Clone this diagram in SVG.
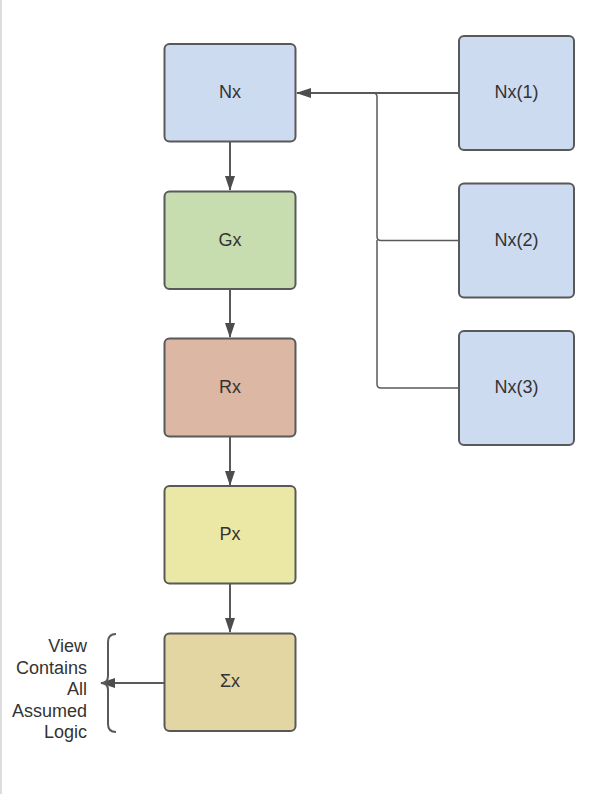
<svg xmlns="http://www.w3.org/2000/svg" width="596" height="794" viewBox="0 0 596 794">
<defs>
<style>
.box{stroke:#595959;stroke-width:2;}
.lbl{font-family:"Liberation Sans",Arial,sans-serif;font-size:18px;fill:#333;text-anchor:middle;dominant-baseline:central;}
.note{font-family:"Liberation Sans",Arial,sans-serif;font-size:18px;fill:#333;text-anchor:end;}
.conn{fill:none;stroke:#595959;stroke-width:2;}
.thin{fill:none;stroke:#595959;stroke-width:1.5;}
</style>
<marker id="arr" viewBox="0 0 15 10" refX="14" refY="5" markerWidth="15" markerHeight="10" markerUnits="userSpaceOnUse" orient="auto">
<path d="M0,0 L15,5 L0,10 Z" fill="#4d4d4d"/>
</marker>
</defs>
<rect x="0" y="0" width="596" height="794" fill="#fff"/>
<line x1="1" y1="0" x2="1" y2="794" stroke="#dcdcdc" stroke-width="2"/>

<g id="connectors">
<line class="conn" x1="230" y1="142" x2="230" y2="190" marker-end="url(#arr)"/>
<line class="conn" x1="230" y1="289" x2="230" y2="337" marker-end="url(#arr)"/>
<line class="conn" x1="230" y1="437" x2="230" y2="485" marker-end="url(#arr)"/>
<line class="conn" x1="230" y1="584" x2="230" y2="632" marker-end="url(#arr)"/>
<line class="conn" x1="459" y1="93" x2="297" y2="93" marker-end="url(#arr)"/>
<path class="thin" d="M459,240.5 H381 Q377,240.5 377,236.5 V97 Q377,93 373,93"/>
<path class="thin" d="M459,388 H381 Q377,388 377,384 V240"/>
<line class="conn" x1="164" y1="683" x2="101" y2="683" marker-end="url(#arr)"/>
</g>

<g id="brace">
<path d="M116,634 Q108,634 108,642 V676 Q108,683 101,683 Q108,683 108,690 V724 Q108,732 116,732" fill="none" stroke="#595959" stroke-width="2"/>
</g>

<g id="note">
<text class="note" x="87" y="652">View</text>
<text class="note" x="87" y="673.5">Contains</text>
<text class="note" x="87" y="695">All</text>
<text class="note" x="87" y="716.5">Assumed</text>
<text class="note" x="87" y="738">Logic</text>
</g>

<g id="Nx">
<rect class="box" x="164.5" y="44" width="131" height="97.5" rx="5" fill="#cddbf0"/>
<text class="lbl" x="230" y="92">Nx</text>
</g>
<g id="Gx">
<rect class="box" x="164.5" y="191.5" width="131" height="97.5" rx="5" fill="#c7ddb0"/>
<text class="lbl" x="230" y="239.5">Gx</text>
</g>
<g id="Rx">
<rect class="box" x="164.5" y="338.5" width="131" height="98" rx="5" fill="#dbb7a4"/>
<text class="lbl" x="230" y="386.5">Rx</text>
</g>
<g id="Px">
<rect class="box" x="164.5" y="486" width="131" height="97.5" rx="5" fill="#ebe8a6"/>
<text class="lbl" x="230" y="534">Px</text>
</g>
<g id="Sx">
<rect class="box" x="164.5" y="633.5" width="131" height="97.5" rx="5" fill="#e3d6a2"/>
<text class="lbl" x="230" y="681">Σx</text>
</g>
<g id="Nx1">
<rect class="box" x="459" y="36" width="115" height="114" rx="5" fill="#cddbf0"/>
<text class="lbl" x="516.5" y="92">Nx(1)</text>
</g>
<g id="Nx2">
<rect class="box" x="459" y="183.5" width="115" height="114" rx="5" fill="#cddbf0"/>
<text class="lbl" x="516.5" y="239.5">Nx(2)</text>
</g>
<g id="Nx3">
<rect class="box" x="459" y="331" width="115" height="114" rx="5" fill="#cddbf0"/>
<text class="lbl" x="516.5" y="387">Nx(3)</text>
</g>
</svg>
